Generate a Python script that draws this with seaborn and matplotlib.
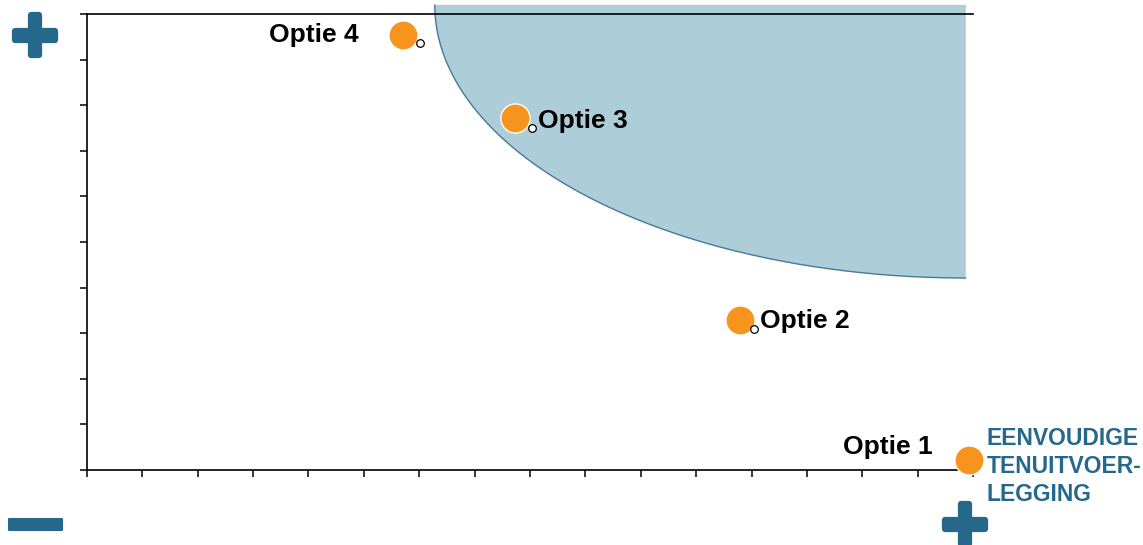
import numpy as np
import pandas as pd
import matplotlib
matplotlib.use("Agg")
import matplotlib.pyplot as plt
import matplotlib.patheffects as pe
import seaborn as sns

# --- data -------------------------------------------------------------
options = ["Optie 1", "Optie 2", "Optie 3", "Optie 4"]
dot_x = [15.93, 11.79, 7.72, 5.70]
dot_y = [0.22, 3.30, 7.72, 9.55]

# small open data markers next to the highlighted options
marker_options = ["Optie 2", "Optie 3", "Optie 4"]
marker_x = [12.04, 8.03, 6.02]
marker_y = [3.09, 7.50, 9.37]

# preferred zone: quarter ellipse anchored in the upper-right corner
zone_center = (15.87, 10.20)
zone_radius = (9.59, 5.99)

x_ticks = list(range(0, 17))
y_ticks = list(range(0, 11))

side_label = "EENVOUDIGE\nTENUITVOER-\nLEGGING"

# --- style ------------------------------------------------------------
sns.set_style("ticks")
plt.rcParams["font.family"] = ["Liberation Sans", "DejaVu Sans"]

ORANGE = "#f7941d"
BLUE = "#25688b"
ZONE_FILL = "#adcdd9"
ZONE_EDGE = "#467a96"

fig = plt.figure(figsize=(11.43, 5.45), dpi=100)
ax = fig.add_axes([0.0761, 0.1376, 0.7752, 0.8367])

# zone polygon
t = np.linspace(np.pi, 1.5 * np.pi, 200)
ex = zone_center[0] + zone_radius[0] * np.cos(t)
ey = zone_center[1] + zone_radius[1] * np.sin(t)
px = np.concatenate([ex, [zone_center[0]]])
py = np.concatenate([ey, [zone_center[1]]])
ax.fill(px, py, color=ZONE_FILL, lw=0, zorder=1, clip_on=False)
ax.plot(ex, ey, color=ZONE_EDGE, lw=1.0, zorder=1.5, clip_on=False)

# highlighted options
dots = pd.DataFrame({"option": options, "x": dot_x, "y": dot_y})
sns.scatterplot(data=dots, x="x", y="y", ax=ax, s=440, color=ORANGE,
                edgecolor="white", linewidth=1.0, zorder=4, clip_on=False,
                legend=False)

marks = pd.DataFrame({"option": marker_options, "x": marker_x, "y": marker_y})
sns.scatterplot(data=marks, x="x", y="y", ax=ax, s=30, facecolor="white",
                edgecolor="black", linewidth=0.9, zorder=5, clip_on=False,
                legend=False)

# option labels
label_offsets = {
    "Optie 1": (-26, 9.7, "right"),
    "Optie 2": (14.4, -1.2, "left"),
    "Optie 3": (16.6, -2.0, "left"),
    "Optie 4": (-31.5, 0.0, "right"),
}
for name, x, y in zip(options, dot_x, dot_y):
    dx, dy, ha = label_offsets[name]
    ax.annotate(name, xy=(x, y), xytext=(dx, dy), textcoords="offset points",
                ha=ha, va="center", fontsize=19, fontweight="bold",
                color="black", zorder=6)

# axes
ax.set_xlim(0, 16)
ax.set_ylim(0, 10)
ax.set_xticks(x_ticks)
ax.set_yticks(y_ticks)
ax.set_xticklabels([])
ax.set_yticklabels([])
ax.set_xlabel("")
ax.set_ylabel("")
ax.tick_params(axis="both", direction="out", length=5, width=1.1,
               color="black")
for side in ("left", "bottom", "top"):
    ax.spines[side].set_visible(True)
    ax.spines[side].set_color("black")
    ax.spines[side].set_linewidth(1.2)
    ax.spines[side].set_zorder(3)
ax.spines["right"].set_visible(False)
ax.set_facecolor("white")

# axis direction signs
plus_fx = [pe.withStroke(linewidth=4.5, foreground=BLUE)]
minus_fx = [pe.withStroke(linewidth=1.5, foreground=BLUE)]
fig.text(35 / 1143, 1 - 41 / 545, "+", ha="center", va="center",
         fontsize=57, fontweight="bold", color=BLUE, path_effects=plus_fx)
fig.text(35 / 1143, 1 - 532 / 545, "\u2212", ha="center", va="center",
         fontsize=76, fontweight="bold", color=BLUE, path_effects=minus_fx)
fig.text(965 / 1143, 1 - 530 / 545, "+", ha="center", va="center",
         fontsize=57, fontweight="bold", color=BLUE, path_effects=plus_fx)

fig.text(987 / 1143, 1 - 427 / 545, side_label, ha="left", va="top",
         fontsize=16.5, fontweight="bold", color=BLUE, linespacing=1.27)

fig.savefig("out.png", dpi=100, facecolor="white")
